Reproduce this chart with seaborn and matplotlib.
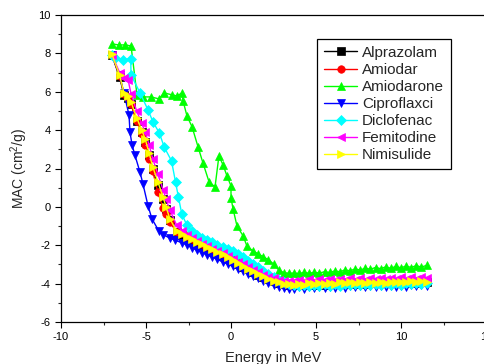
import matplotlib
matplotlib.use("Agg")
import matplotlib.pyplot as plt
from matplotlib.ticker import MultipleLocator
import seaborn as sns
import pandas as pd

# ---------------- data ----------------
names = ["Alprazolam", "Amiodar", "Amiodarone", "Ciproflaxci",
         "Diclofenac", "Femitodine", "Nimisulide"]
colors = ["#000000", "#FF0000", "#00FF00", "#0000FF", "#00FFFF", "#FF00FF", "#FFFF00"]
markers = ["s", "o", "^", "v", "D", "<", ">"]

x_tail = [-2.9, -2.6, -2.3, -2.0, -1.7, -1.4, -1.1, -0.8, -0.5, -0.2,
          0.1, 0.4, 0.7, 1.0, 1.3, 1.6, 1.9, 2.2, 2.5, 2.8,
          3.1, 3.4, 3.7, 4.0, 4.3, 4.6, 4.9, 5.2, 5.5, 5.8,
          6.1, 6.4, 6.7, 7.0, 7.3, 7.6, 7.9, 8.2, 8.5, 8.8,
          9.1, 9.4, 9.7, 10.0, 10.3, 10.6, 10.9, 11.2, 11.5]

# Alprazolam
alp_x_head = [-7.0, -6.55, -6.3, -6.05, -5.88, -5.55, -5.25, -5.05, -4.82, -4.6, -4.3, -4.0, -3.82, -3.6, -3.2]
alp_y_head = [7.9, 6.75, 5.85, 5.65, 5.35, 4.5, 3.9, 3.4, 2.7, 1.95, 1.15, 0.4, -0.1, -0.7, -1.3]
alp_y_tail = [-1.48, -1.62, -1.75, -1.87, -2.0, -2.12, -2.26, -2.38, -2.5, -2.64,
              -2.8, -2.96, -3.12, -3.26, -3.4, -3.54, -3.66, -3.78, -3.88, -3.97,
              -4.03, -4.07, -4.08, -4.05, -4.08, -4.02, -4.06, -4.0, -4.05, -3.99,
              -4.03, -3.97, -4.02, -3.96, -4.01, -3.95, -4.0, -3.95, -3.99, -3.94,
              -3.98, -3.93, -3.97, -3.92, -3.97, -3.91, -3.96, -3.91, -3.93]

# Amiodar
ami_x_head = [-7.0, -6.55, -6.3, -6.05, -5.88, -5.55, -5.25, -5.05, -4.82, -4.6, -4.3, -4.0, -3.82, -3.6, -3.2]
ami_y_head = [7.9, 6.8, 5.9, 5.7, 5.35, 4.45, 3.8, 3.25, 2.5, 1.85, 0.75, -0.05, -0.35, -0.8, -1.3]
ami_y_tail = [-1.38, -1.52, -1.66, -1.79, -1.92, -2.05, -2.19, -2.31, -2.43, -2.57,
              -2.73, -2.89, -3.05, -3.19, -3.33, -3.47, -3.59, -3.71, -3.81, -3.9,
              -3.96, -4.0, -4.01, -3.98, -4.0, -3.93, -3.98, -3.91, -3.97, -3.9,
              -3.95, -3.89, -3.94, -3.88, -3.93, -3.87, -3.92, -3.87, -3.91, -3.85,
              -3.9, -3.85, -3.89, -3.84, -3.89, -3.83, -3.88, -3.83, -3.85]

# Amiodarone
amd_x_head = [-7.0, -6.59, -6.24, -5.88, -5.53, -5.18, -4.71, -4.24, -3.94, -3.47, -3.18, -2.88,
              -2.82, -2.59, -2.29, -1.94, -1.65, -1.29, -0.94, -0.71, -0.47, -0.24, 0.0, 0.0,
              0.12, 0.35, 0.71, 0.94]
amd_y_head = [8.49, 8.44, 8.44, 8.39, 5.84, 5.73, 5.73, 5.63, 5.94, 5.84, 5.78, 5.94,
              5.52, 4.74, 4.17, 3.13, 2.29, 1.3, 1.04, 2.66, 2.19, 1.62, 1.09, 0.47,
              -0.1, -0.99, -1.51, -2.05]
amd_y_tail = [-2.3, -2.45, -2.6, -2.76, -2.97, -3.28, -3.43, -3.46, -3.45,
              -3.47, -3.42, -3.46, -3.41, -3.45, -3.38, -3.42, -3.34, -3.38, -3.29,
              -3.33, -3.24, -3.29, -3.2, -3.25, -3.16, -3.22, -3.13, -3.2, -3.1,
              -3.18, -3.08, -3.16, -3.06, -3.14, -3.05]

# Ciproflaxci
cip_x_head = [-7.0, -6.55, -6.3, -6.0, -5.94, -5.82, -5.65, -5.35, -5.18, -4.88, -4.65, -4.25, -4.0, -3.6, -3.3]
cip_y_head = [7.92, 6.85, 5.95, 4.79, 3.88, 3.23, 2.69, 1.8, 1.2, 0.05, -0.62, -1.25, -1.45, -1.62, -1.74]
cip_y_tail = [-1.86, -1.98, -2.13, -2.26, -2.38, -2.5, -2.62, -2.74, -2.86, -2.98,
              -3.1, -3.22, -3.35, -3.48, -3.6, -3.72, -3.85, -3.97, -4.07, -4.16,
              -4.23, -4.28, -4.27, -4.2, -4.26, -4.18, -4.24, -4.16, -4.23, -4.15,
              -4.22, -4.14, -4.21, -4.13, -4.2, -4.12, -4.19, -4.12, -4.18, -4.11,
              -4.17, -4.1, -4.16, -4.1, -4.15, -4.09, -4.14, -4.08, -4.1]

# Diclofenac
dic_x_head = [-7.0, -6.8, -6.35, -5.9, -5.88, -5.35, -4.88, -4.59, -4.22, -3.92, -3.5, -3.26, -3.09]
dic_y_head = [7.9, 7.76, 7.68, 7.72, 6.88, 5.94, 5.05, 4.43, 3.86, 3.1, 2.4, 1.28, 0.5]
dic_y_tail = [-0.35, -0.95, -1.25, -1.46, -1.6, -1.72, -1.85, -1.98, -2.07, -2.17,
              -2.3, -2.45, -2.62, -2.8, -2.98, -3.15, -3.33, -3.5, -3.66, -3.8,
              -3.93, -4.03, -4.08, -4.12, -4.06, -4.13, -4.05, -4.12, -4.04, -4.11,
              -4.03, -4.1, -4.02, -4.09, -4.01, -4.08, -4.01, -4.07, -4.0, -4.06,
              -3.99, -4.06, -3.99, -4.05, -3.98, -4.04, -3.97, -4.03, -3.98]

# Femitodine
fem_x_head = [-7.0, -6.55, -6.3, -6.05, -5.88, -5.55, -5.25, -5.05, -4.82, -4.6, -4.3, -4.0, -3.82, -3.6, -3.2]
fem_y_head = [7.9, 7.0, 6.7, 6.6, 5.9, 5.0, 4.35, 3.9, 3.25, 2.5, 1.7, 0.9, 0.4, -0.15, -0.95]
fem_y_tail = [-1.25, -1.45, -1.62, -1.78, -1.92, -2.05, -2.18, -2.3, -2.42, -2.55,
              -2.7, -2.85, -3.0, -3.14, -3.28, -3.41, -3.53, -3.63, -3.72, -3.79,
              -3.84, -3.86, -3.85, -3.8, -3.86, -3.78, -3.84, -3.76, -3.83, -3.75,
              -3.82, -3.74, -3.81, -3.73, -3.8, -3.72, -3.79, -3.71, -3.78, -3.7,
              -3.77, -3.69, -3.76, -3.68, -3.75, -3.67, -3.74, -3.67, -3.7]

# Nimisulide
nim_x_head = [-7.0, -6.55, -6.3, -6.05, -5.88, -5.55, -5.25, -5.05, -4.82, -4.6, -4.3, -4.0, -3.82, -3.6, -3.2]
nim_y_head = [7.95, 6.85, 5.95, 5.78, 5.47, 4.64, 4.01, 3.54, 2.81, 2.08, 1.3, 0.52, 0.0, -0.62, -1.25]
nim_y_tail = [-1.42, -1.56, -1.70, -1.82, -1.95, -2.08, -2.22, -2.34, -2.46, -2.60,
              -2.76, -2.92, -3.08, -3.22, -3.36, -3.50, -3.62, -3.74, -3.84, -3.93,
              -4.00, -4.04, -4.05, -4.02, -4.05, -3.98, -4.03, -3.96, -4.02, -3.95,
              -4.00, -3.94, -3.99, -3.93, -3.98, -3.92, -3.97, -3.92, -3.96, -3.90,
              -3.95, -3.90, -3.94, -3.89, -3.94, -3.88, -3.93, -3.88, -3.90]

x_ticks = [-10, -5, 0, 5, 10, 15]
y_ticks = [-6, -4, -2, 0, 2, 4, 6, 8, 10]

series = [
    (alp_x_head + x_tail, alp_y_head + alp_y_tail),
    (ami_x_head + x_tail, ami_y_head + ami_y_tail),
    (amd_x_head + x_tail[14:], amd_y_head + amd_y_tail),
    (cip_x_head + x_tail, cip_y_head + cip_y_tail),
    (dic_x_head + x_tail, dic_y_head + dic_y_tail),
    (fem_x_head + x_tail, fem_y_head + fem_y_tail),
    (nim_x_head + x_tail, nim_y_head + nim_y_tail),
]

# ---------------- plot ----------------
sns.set_style("ticks")
plt.rcParams["font.family"] = ["Liberation Sans", "DejaVu Sans"]
plt.rcParams["mathtext.fontset"] = "custom"
plt.rcParams["mathtext.rm"] = "Liberation Sans"
plt.rcParams["axes.unicode_minus"] = False

fig = plt.figure(figsize=(4.84, 3.64), dpi=100)
ax = fig.add_axes([61 / 484, 42 / 364, 425 / 484, 307 / 364])

for name, col, mk, (xs, ys) in zip(names, colors, markers, series):
    df = pd.DataFrame({"x": xs, "y": ys})
    ms = 4.6 if mk == "D" else 5.4
    sns.lineplot(data=df, x="x", y="y", ax=ax, color=col, marker=mk,
                 markersize=ms, markeredgecolor=col, markeredgewidth=0.5,
                 linewidth=1.0, sort=False, estimator=None, label=name)

ax.set_xlim(-10, 15)
ax.set_ylim(-6, 10)
ax.set_xticks(x_ticks)
ax.set_yticks(y_ticks)
ax.xaxis.set_minor_locator(MultipleLocator(2.5))
ax.yaxis.set_minor_locator(MultipleLocator(1))
ax.tick_params(which="major", direction="out", length=4, width=0.8, labelsize=8, colors="black")
ax.tick_params(which="minor", direction="out", length=2, width=0.8)
for s in ax.spines.values():
    s.set_visible(True)
    s.set_linewidth(0.9)
    s.set_color("black")

ax.set_xlabel("Energy in MeV", fontsize=10.5, labelpad=6)
ax.set_ylabel("MAC (cm$^2$/g)", fontsize=10, labelpad=6)

handles, labels = ax.get_legend_handles_labels()
leg = ax.legend(handles, labels, loc="upper left", bbox_to_anchor=(0.602, 0.922),
                fontsize=11, frameon=True, fancybox=False, edgecolor="black",
                framealpha=1, handlelength=2.2, handletextpad=0.3, labelspacing=0.2,
                borderpad=0.45, borderaxespad=0)
leg.get_frame().set_linewidth(0.9)

fig.savefig("out.png", dpi=100)
